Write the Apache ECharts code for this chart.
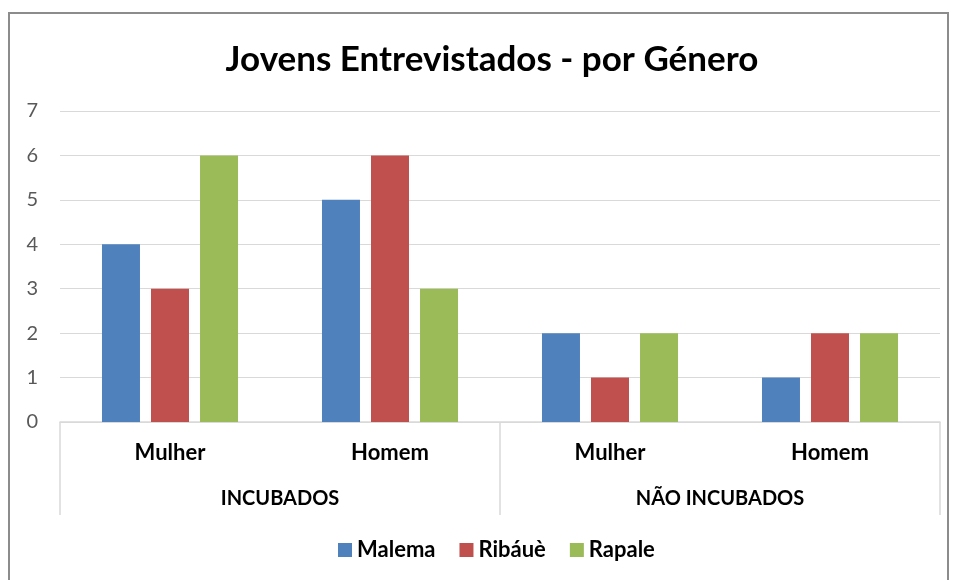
<!DOCTYPE html>
<html>
<head>
<meta charset="utf-8">
<script src="https://cdn.jsdelivr.net/npm/echarts@6/dist/echarts.min.js"></script>
<style>
  html, body { margin: 0; padding: 0; background: #fff; }
  #frame {
    position: absolute; left: 8px; top: 12px; width: 941px; height: 580px;
    border: 2px solid #8c8c8c; box-sizing: border-box;
  }
  #chart { position: absolute; left: 0; top: 0; width: 954px; height: 580px; }
</style>
</head>
<body>
<div id="frame"></div>
<div id="chart"></div>
<script>
// categories
var genders = ['Mulher', 'Homem', 'Mulher', 'Homem'];
var groups = ['INCUBADOS', 'NÃO INCUBADOS'];
// series values
var malema = [4, 5, 2, 1];
var ribaue = [3, 6, 1, 2];
var rapale = [6, 3, 2, 2];

var font = 'Lato';
var chart = echarts.init(document.getElementById('chart'));
var option = {
  animation: false,
  textStyle: { fontFamily: font },
  title: {
    text: 'Jovens Entrevistados - por Género',
    left: 487,
    textAlign: 'center',
    top: 37,
    textStyle: { fontSize: 35, fontWeight: 'bold', color: '#000', fontFamily: font }
  },
  legend: {
    bottom: 14,
    left: 333,
    itemWidth: 14,
    itemHeight: 14,
    itemGap: 24,
    icon: 'rect',
    textStyle: { fontSize: 22, fontWeight: 'bold', color: '#000', fontFamily: font }
  },
  grid: { left: 60, right: 14, top: 111, bottom: 158 },
  xAxis: [
    {
      type: 'category',
      data: genders,
      axisLine: { lineStyle: { color: '#d9d9d9', width: 1.5 } },
      axisTick: { show: false },
      axisLabel: { margin: 20, fontSize: 22, fontWeight: 'bold', color: '#000', fontFamily: font }
    },
    {
      type: 'category',
      data: groups,
      position: 'bottom',
      axisLine: { show: false },
      axisTick: { show: true, length: 93, lineStyle: { color: '#d9d9d9', width: 1.5 } },
      axisLabel: { margin: 67, fontSize: 20, fontWeight: 'bold', color: '#000', fontFamily: font }
    }
  ],
  yAxis: {
    type: 'value',
    min: 0,
    max: 7,
    interval: 1,
    axisLine: { show: false },
    axisTick: { show: false },
    splitLine: { lineStyle: { color: '#d9d9d9', width: 1.2 } },
    axisLabel: { margin: 22, fontSize: 20, color: '#595959', fontFamily: font }
  },
  series: [
    { name: 'Malema', type: 'bar', data: malema, barWidth: 38, barGap: '29%', itemStyle: { color: '#4f81bd' } },
    { name: 'Ribáuè', type: 'bar', data: ribaue, barWidth: 38, barGap: '29%', itemStyle: { color: '#c0504d' } },
    { name: 'Rapale', type: 'bar', data: rapale, barWidth: 38, barGap: '29%', itemStyle: { color: '#9bbb59' } }
  ]
};
chart.setOption(option);
</script>
</body>
</html>
